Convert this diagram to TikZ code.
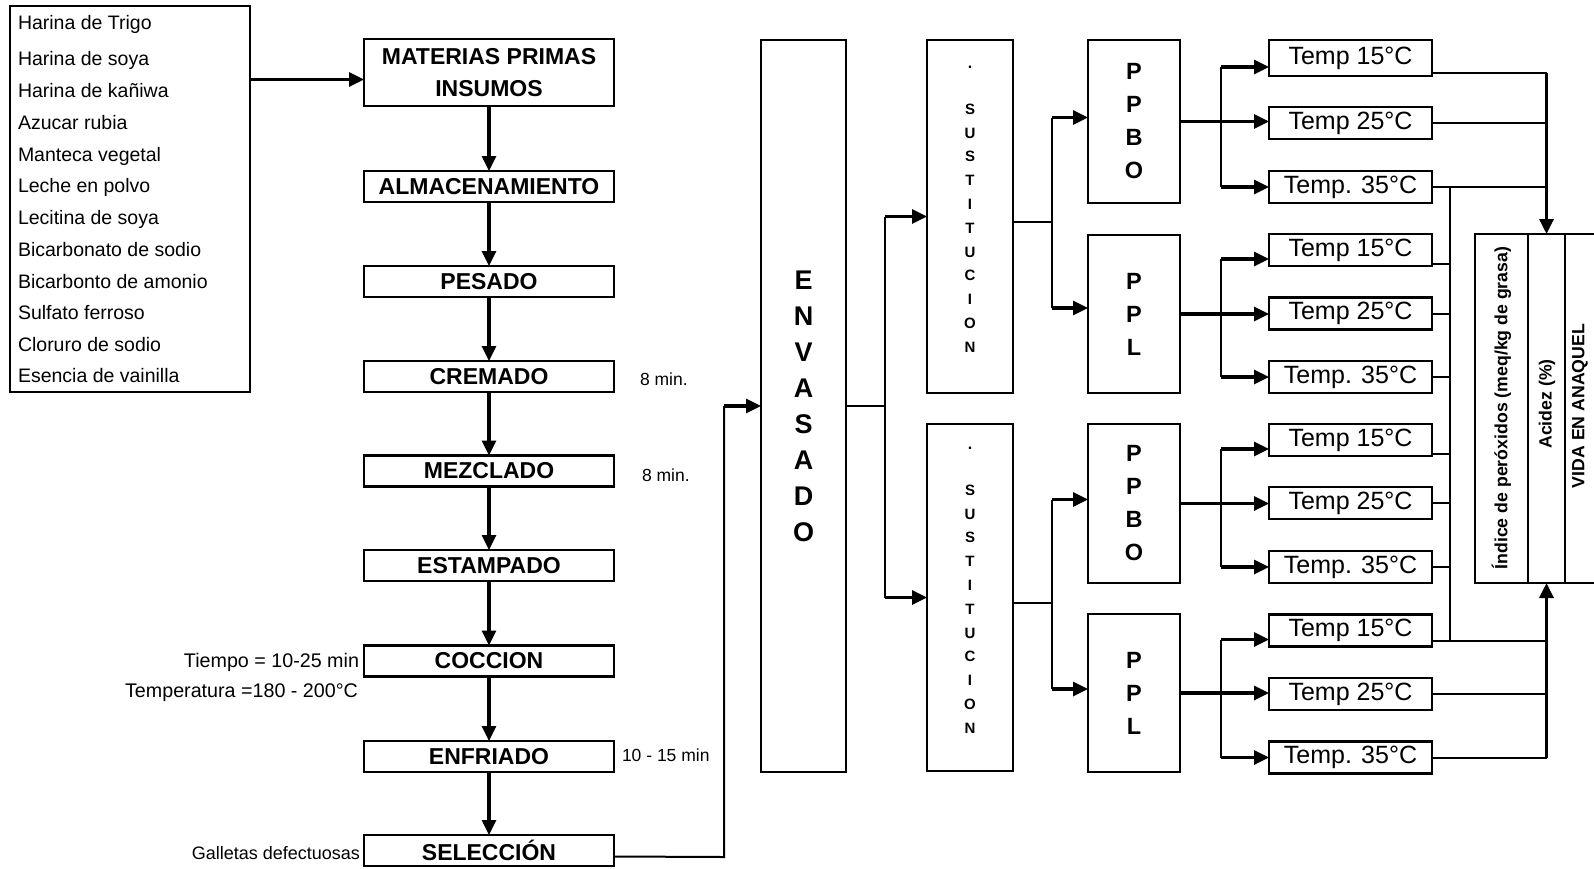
\documentclass[tikz,border=0pt]{standalone}
\usepackage{fontspec}
\setmainfont{Liberation Sans}
\usetikzlibrary{arrows.meta,calc}
\begin{document}
\begin{tikzpicture}[x=1pt,y=-1pt,
 every node/.style={inner sep=0pt, outer sep=0pt},
 bx/.style={draw, line width=2.3pt},
 pbox/.style={bx, minimum width=250pt, minimum height=31pt, font=\bfseries\fontsize{23}{32}\selectfont, align=center},
 tbox/.style={bx, minimum width=163pt, minimum height=32pt, font=\fontsize{25}{30}\selectfont},
 ppbox/.style={bx, minimum width=92pt, font=\bfseries\fontsize{23.5}{33}\selectfont, align=center},
 sbox/.style={bx, minimum width=86pt},
 stxt/.style={font=\bfseries\fontsize{15}{23.8}\selectfont, align=center},
 ln/.style={line width=2pt},
 ar/.style={line width=3.2pt, -{Triangle[length=15pt,width=14pt]}},
 ingt/.style={anchor=west, font=\fontsize{19.5}{24}\selectfont},
 side/.style={font=\fontsize{17.5}{20}\selectfont},
 tcol/.style={bx, minimum height=349pt},
 ttxt/.style={rotate=90, font=\bfseries\fontsize{17.7}{20}\selectfont},
]
\fill[white] (0,0) rectangle (1594,868);
\useasboundingbox (0,0) rectangle (1594,868);

% ingredients
\node[bx, minimum width=240pt, minimum height=386pt] (ingr) at (130,199) {};
\foreach \yy/\txt [count=\i] in {24/Harina de Trigo, 60/Harina de soya, 91/Harina de kañiwa, 123/Azucar rubia, 156/Manteca vegetal, 187/Leche en polvo, 219/Lecitina de soya, 250/Bicarbonato de sodio, 282/Bicarbonto de amonio, 313/Sulfato ferroso, 345/Cloruro de sodio, 376/Esencia de vainilla}
  \node[ingt] (i\i) at (18,\yy) {\txt};

% process column
\node[pbox, minimum height=67pt] (mat) at (489,72.5) {MATERIAS PRIMAS\\INSUMOS};
\node[pbox] (alm) at (489,186.5) {ALMACENAMIENTO};
\node[pbox] (pes) at (489,281.5) {PESADO};
\node[pbox] (cre) at (489,376.5) {CREMADO};
\node[pbox] (mez) at (489,471) {MEZCLADO};
\node[pbox] (est) at (489,565.5) {ESTAMPADO};
\node[pbox] (coc) at (489,661) {COCCION};
\node[pbox] (enf) at (489,756.5) {ENFRIADO};
\node[pbox] (sel) at (489,850.5) {SELECCIÓN};

\node[side, anchor=west] (l8a) at (640,379) {8 min.};
\node[side, anchor=west] (l8b) at (642,475) {8 min.};
\node[side, anchor=west] (l15) at (622,755) {10 - 15 min};
\node[font=\fontsize{19.7}{22}\selectfont, anchor=east] (ltie) at (359,662) {Tiempo = 10-25 min};
\node[font=\fontsize{19.7}{22}\selectfont, anchor=east] (ltem) at (358,693) {Temperatura =180 - 200°C};
\node[font=\fontsize{18}{20}\selectfont, anchor=east] (lgal) at (360,853) {Galletas defectuosas};

% envasado
\node[bx, minimum width=85pt, minimum height=732pt, font=\bfseries\fontsize{27}{36}\selectfont, align=center] (env) at (803.5,406) {E\\N\\V\\A\\S\\A\\D\\O};

% sustitucion
\node[sbox, minimum height=353pt] (s1) at (970,216.5) {};
\node[stxt] (s1t) at (970,228) {S\\U\\S\\T\\I\\T\\U\\C\\I\\O\\N};
\node[font=\bfseries\fontsize{16}{16}\selectfont] (s1d) at (970,67) {.};
\node[sbox, minimum height=347pt] (s2) at (970,597.5) {};
\node[stxt] (s2t) at (970,609) {S\\U\\S\\T\\I\\T\\U\\C\\I\\O\\N};
\node[font=\bfseries\fontsize{16}{16}\selectfont] (s2d) at (970,448) {.};

% PP boxes
\node[ppbox, minimum height=163pt] (pb1) at (1134,121.5) {P\\P\\B\\O};
\node[ppbox, minimum height=158pt] (pl1) at (1134,314) {P\\P\\L};
\node[ppbox, minimum height=159pt] (pb2) at (1134,503.5) {P\\P\\B\\O};
\node[ppbox, minimum height=158pt] (pl2) at (1134,693) {P\\P\\L};

% temperature boxes
\node[tbox, minimum height=36pt] (t11) at (1350.5,58) {Temp 15°C};
\node[tbox] (t12) at (1350.5,123) {Temp 25°C};
\node[tbox] (t13) at (1350.5,187) {Temp. 35°C};
\node[tbox] (t21) at (1350.5,250) {Temp 15°C};
\node[tbox] (t22) at (1350.5,313.5) {Temp 25°C};
\node[tbox] (t23) at (1350.5,377) {Temp. 35°C};
\node[tbox] (t31) at (1350.5,440) {Temp 15°C};
\node[tbox] (t32) at (1350.5,503) {Temp 25°C};
\node[tbox] (t33) at (1350.5,567) {Temp. 35°C};
\node[tbox] (t41) at (1350.5,630.5) {Temp 15°C};
\node[tbox] (t42) at (1350.5,694) {Temp 25°C};
\node[tbox] (t43) at (1350.5,757.5) {Temp. 35°C};

% table
\node[tcol, minimum width=53pt] (tc1) at (1501.5,408.5) {};
\node[tcol, minimum width=37pt] (tc2) at (1546.5,408.5) {};
\node[ttxt] (tx1) at (1501.5,408) {Índice de peróxidos (meq/kg de grasa)};
\node[ttxt] (tx2) at (1547,404) {Acidez (\%)};
\node[ttxt] (tx3) at (1580,406) {VIDA EN ANAQUEL};
\coordinate (trt) at (1594,234);
\coordinate (trb) at (1594,583);
\draw[line width=2.3pt] (tc2.north east) -- (trt);
\draw[line width=2.3pt] (tc2.south east) -- (trb);

% connectors: ingredients and process
\coordinate (m1) at ([yshift=-7pt]mat.west);
\draw[ar] (ingr.east |- m1) -- (m1);
\foreach \p/\q in {mat/alm, alm/pes, pes/cre, cre/mez, mez/est, est/coc, coc/enf, enf/sel}
  \draw[ar] (\p.south) -- (\q.north);

% seleccion -> envasado
\coordinate (jA) at (724,857);
\draw[ln] ([yshift=-6pt]sel.east) -- (jA) -- (jA |- env.west);
\draw[ar] (jA |- env.west) -- (env.west);

% envasado -> sustitucion
\coordinate (jB) at (885,406);
\draw[ln] (env.east) -- (jB);
\draw[ln] (jB |- s1.west) -- (jB |- s2.west);
\draw[ar] (jB |- s1.west) -- (s1.west);
\draw[ar] (jB |- s2.west) -- (s2.west);

% sustitucion -> PP
\coordinate (jC) at (1052,0);
\coordinate (pb1i) at ([yshift=4pt]pb1.west);
\coordinate (pl1i) at ([yshift=6pt]pl1.west);
\coordinate (pb2i) at ([yshift=4pt]pb2.west);
\coordinate (pl2i) at ([yshift=4pt]pl2.west);
\draw[ln] ([yshift=-5pt]s1.east) -- ([yshift=-5pt]s1.east -| jC);
\draw[ln] (jC |- pb1i) -- (jC |- pl1i);
\draw[ar] (jC |- pb1i) -- (pb1i);
\draw[ar] (jC |- pl1i) -- (pl1i);
\draw[ln] ([yshift=-5pt]s2.east) -- ([yshift=-5pt]s2.east -| jC);
\draw[ln] (jC |- pb2i) -- (jC |- pl2i);
\draw[ar] (jC |- pb2i) -- (pb2i);
\draw[ar] (jC |- pl2i) -- (pl2i);

% PP -> temps
\coordinate (jT) at (1221,0);
\foreach \P/\a/\b/\c in {pb1/t11/t12/t13, pl1/t21/t22/t23, pb2/t31/t32/t33, pl2/t41/t42/t43} {
  \coordinate (\a in) at ([yshift=-9pt]\a.west);
  \draw[ar] (\P.east) -- (\P.east -| \b.west);
  \draw[ln] (jT |- \a in) -- (jT |- \c.west);
  \draw[ar] (jT |- \a in) -- (\a in);
  \draw[ar] (jT |- \c.west) -- (\c.west);
}

% temps -> table
\coordinate (jE) at (1450,0);
\coordinate (o11) at ([yshift=-15pt]t11.east);
\coordinate (o21) at ([yshift=-14pt]t21.east);
\coordinate (o31) at ([yshift=-14pt]t31.east);
\coordinate (o41) at ([yshift=-10pt]t41.east);
\draw[ln] (o11) -- (o11 -| tc2.north);
\draw[ln] (t12.east) -- (t12.east -| tc2.north);
\draw[ln] (t13.east) -- (t13.east -| tc2.north);
\draw[ar] (o11 -| tc2.north) -- (tc2.north);
\draw[ln] (jE |- t13.east) -- (jE |- o41);
\draw[ln] (o21) -- (o21 -| jE);
\draw[ln] (t22.east) -- (t22.east -| jE);
\draw[ln] (t23.east) -- (t23.east -| jE);
\draw[ln] (o31) -- (o31 -| jE);
\draw[ln] (t32.east) -- (t32.east -| jE);
\draw[ln] (t33.east) -- (t33.east -| jE);
\draw[ln] (o41) -- (o41 -| tc2.south);
\draw[ln] (t42.east) -- (t42.east -| tc2.south);
\draw[ln] (t43.east) -- (t43.east -| tc2.south);
\draw[ar] (t43.east -| tc2.south) -- (tc2.south);
\end{tikzpicture}
\end{document}
